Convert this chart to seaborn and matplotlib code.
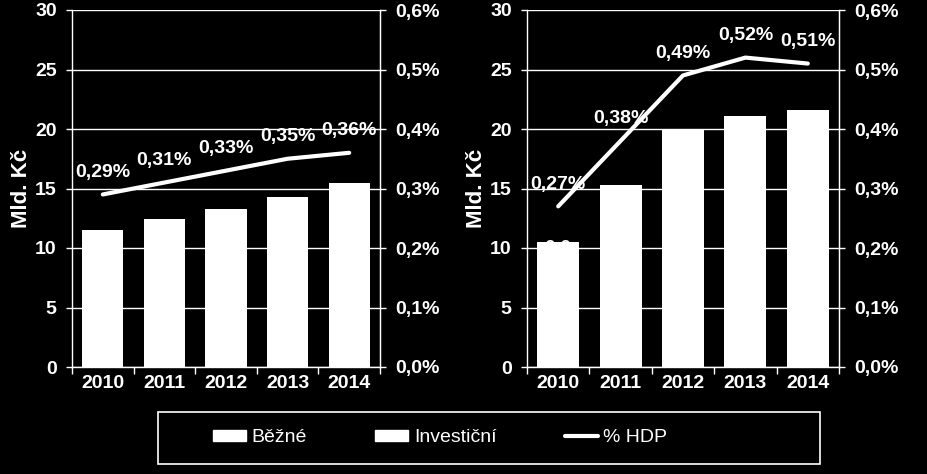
import numpy as np
import matplotlib
matplotlib.use("Agg")
import matplotlib.pyplot as plt
import seaborn as sns
from matplotlib.patches import Patch, Rectangle
from matplotlib.lines import Line2D
from matplotlib.ticker import FuncFormatter, FixedLocator

years = ["2010", "2011", "2012", "2013", "2014"]
bezne = [11.5, 12.4, 13.3, 14.3, 15.5]
bezne_hdp = [0.29, 0.31, 0.33, 0.35, 0.36]
invest = [10.5, 15.3, 19.9, 21.1, 21.6]
invest_hdp = [0.27, 0.38, 0.49, 0.52, 0.51]
legend_labels = ["Běžné", "Investiční", "% HDP"]
y_label = "Mld. Kč"

sns.set_style("dark")
plt.rcParams["font.family"] = ["Liberation Sans", "DejaVu Sans"]
plt.rcParams["font.weight"] = "bold"

W, H = 927, 474
FS = 14
fig = plt.figure(figsize=(W / 100, H / 100), dpi=100, facecolor="black")


def px_rect(x0, x1, ytop, ybot):
    return [x0 / W, 1 - ybot / H, (x1 - x0) / W, (ybot - ytop) / H]


def tick_pct(v, pos=None):
    return f"{v:.1f}%".replace(".", ",")


def label_pct(v):
    return f"{v:.2f}%".replace(".", ",")


def panel(rect, bars, line, extra=None):
    ax = fig.add_axes(rect)
    ax.set_facecolor("black")
    sns.barplot(x=years, y=bars, color="white", width=0.67, ax=ax,
                edgecolor="white", linewidth=0, saturation=1, zorder=3)
    ax.set_xlim(-0.5, len(years) - 0.5)
    ax.set_ylim(0, 30)
    ax.set_yticks(np.arange(0, 31, 5))
    ax.grid(axis="y", color="white", linewidth=1)
    ax.grid(axis="x", visible=False)
    ax.set_axisbelow(True)
    ax.spines["top"].set_visible(False)
    for s in ["left", "right", "bottom"]:
        ax.spines[s].set_visible(True)
        ax.spines[s].set_color("white")
        ax.spines[s].set_linewidth(1)
    ax.tick_params(axis="y", colors="white", labelsize=FS, length=4, width=1,
                   pad=7, direction="out", left=True)
    ax.tick_params(axis="x", which="major", colors="white", labelsize=FS,
                   length=0, pad=6)
    ax.xaxis.set_minor_locator(FixedLocator(np.arange(-0.5, len(years), 1.0)))
    ax.tick_params(axis="x", which="minor", colors="white", length=5, width=1,
                   bottom=True, direction="out")
    ax.set_ylabel(y_label, color="white", fontsize=16, fontweight="bold", labelpad=2)
    ax.set_xlabel("")
    if extra is not None:
        ax.text(0, extra[1], extra[0], color="white", fontsize=FS, ha="center",
                va="center", zorder=1, fontweight="bold")

    ax2 = ax.twinx()
    x = np.arange(len(years))
    sns.lineplot(x=x, y=line, color="white", linewidth=3, ax=ax2)
    ax2.set_ylim(0, 0.6)
    ax2.set_yticks(np.arange(0, 0.61, 0.1))
    ax2.yaxis.set_major_formatter(FuncFormatter(tick_pct))
    ax2.tick_params(axis="y", colors="white", labelsize=FS, length=4, width=1,
                    pad=7, direction="out", right=True)
    ax2.grid(False)
    for s in ["top", "left", "bottom"]:
        ax2.spines[s].set_visible(False)
    ax2.spines["right"].set_color("white")
    ax2.set_xlim(-0.5, len(years) - 0.5)
    for xi, v in zip(x, line):
        ax2.annotate(label_pct(v), (xi, v), xytext=(0, 16),
                     textcoords="offset points", ha="center", va="center",
                     color="white", fontsize=FS, fontweight="bold")
    return ax, ax2


panel(px_rect(72, 380, 10, 367), bezne, bezne_hdp)
panel(px_rect(527, 839, 10, 367), invest, invest_hdp, extra=("0,0", 10.0))

# legend frame
fig.patches.append(Rectangle((158 / W, 1 - 464 / H), (820 - 158) / W, (464 - 412) / H,
                             transform=fig.transFigure, facecolor="black",
                             edgecolor="white", linewidth=1.2, zorder=0))
handles = [Patch(facecolor="white", edgecolor="white"),
           Patch(facecolor="white", edgecolor="white"),
           Line2D([0], [0], color="white", linewidth=3)]
leg = fig.legend(handles, legend_labels, loc="center",
                 bbox_to_anchor=(440 / W, 1 - 438 / H), ncol=3, frameon=False,
                 prop={"family": ["Liberation Sans Narrow", "Liberation Sans"],
                       "size": 14, "weight": "normal"},
                 handlelength=1.7, handletextpad=0.3, columnspacing=3.5,
                 handleheight=0.55)
for t in leg.get_texts():
    t.set_color("white")

fig.savefig("out.png", dpi=100, facecolor="black")
